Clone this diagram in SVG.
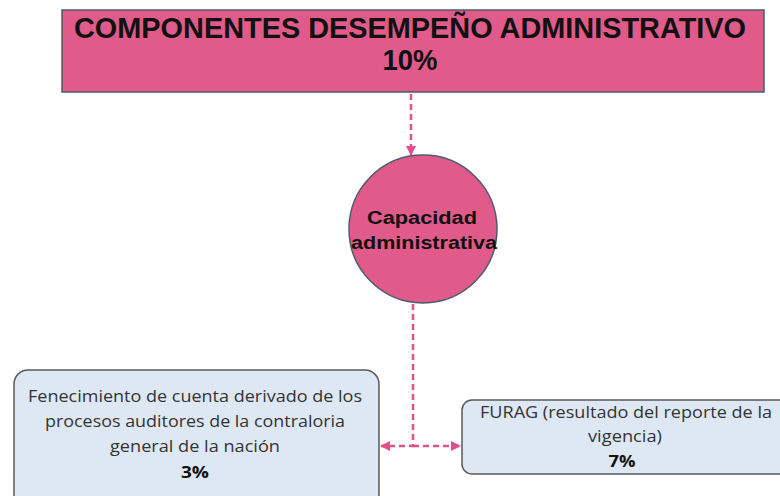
<svg xmlns="http://www.w3.org/2000/svg" width="780" height="496" viewBox="0 0 780 496">
<defs>
<style>
.pink{fill:#e05a8a;stroke:#4f5b6c;stroke-width:1.5}
.box{fill:#dde8f4;stroke:#5a5a5a;stroke-width:1.5}
.title{font-family:"Liberation Sans",Arial,sans-serif;font-weight:bold;font-size:29px;fill:#111;text-anchor:middle}
.circ{font-family:"Liberation Sans",Arial,sans-serif;font-weight:bold;font-size:18px;fill:#111;text-anchor:middle}
.lbl{font-family:"Open Sans","Liberation Sans",sans-serif;font-size:15.5px;fill:#333;text-anchor:middle}
.pct{font-family:"Open Sans","Liberation Sans",sans-serif;font-size:16px;font-weight:bold;fill:#111;text-anchor:middle}
.con{fill:none;stroke:#e0508a;stroke-width:2.5;stroke-dasharray:6,4}
</style>
<marker id="ah" viewBox="0 0 10 10" refX="9" refY="5" markerWidth="4" markerHeight="4" orient="auto">
<path d="M0,0 L10,5 L0,10 z" fill="#e0508a"/>
</marker>
</defs>
<rect width="780" height="496" fill="#fff"/>
<g id="connectors">
<path class="con" d="M411,94 V155" marker-end="url(#ah)"/>
<path class="con" d="M413,304 V446 H381" marker-end="url(#ah)"/>
<path class="con" d="M413,446 H460" marker-end="url(#ah)"/>
</g>
<g id="top">
<rect class="pink" x="62" y="10" width="702" height="82"/>
<text class="title" x="410" y="38" textLength="672" lengthAdjust="spacingAndGlyphs">COMPONENTES DESEMPEÑO ADMINISTRATIVO</text>
<text class="title" x="410" y="70" textLength="55" lengthAdjust="spacingAndGlyphs">10%</text>
</g>
<g id="capacidad">
<circle class="pink" cx="423" cy="229" r="74"/>
<text class="circ" x="422" y="224" textLength="110" lengthAdjust="spacingAndGlyphs">Capacidad</text>
<text class="circ" x="424" y="249" textLength="146" lengthAdjust="spacingAndGlyphs">administrativa</text>
</g>
<g id="fenecimiento">
<rect class="box" x="14" y="370" width="365" height="140" rx="14"/>
<text class="lbl" x="195" y="402" textLength="334" lengthAdjust="spacingAndGlyphs">Fenecimiento de cuenta derivado de los</text>
<text class="lbl" x="195" y="427" textLength="300" lengthAdjust="spacingAndGlyphs">procesos auditores de la contraloria</text>
<text class="lbl" x="195" y="452" textLength="170" lengthAdjust="spacingAndGlyphs">general de la nación</text>
<text class="pct" x="195" y="478" textLength="28" lengthAdjust="spacingAndGlyphs">3%</text>
</g>
<g id="furag">
<rect class="box" x="462" y="400" width="330" height="74" rx="10"/>
<text class="lbl" x="626" y="418" textLength="292" lengthAdjust="spacingAndGlyphs">FURAG (resultado del reporte de la</text>
<text class="lbl" x="625" y="442" textLength="74" lengthAdjust="spacingAndGlyphs">vigencia)</text>
<text class="pct" x="622" y="467" textLength="27" lengthAdjust="spacingAndGlyphs">7%</text>
</g>
</svg>
